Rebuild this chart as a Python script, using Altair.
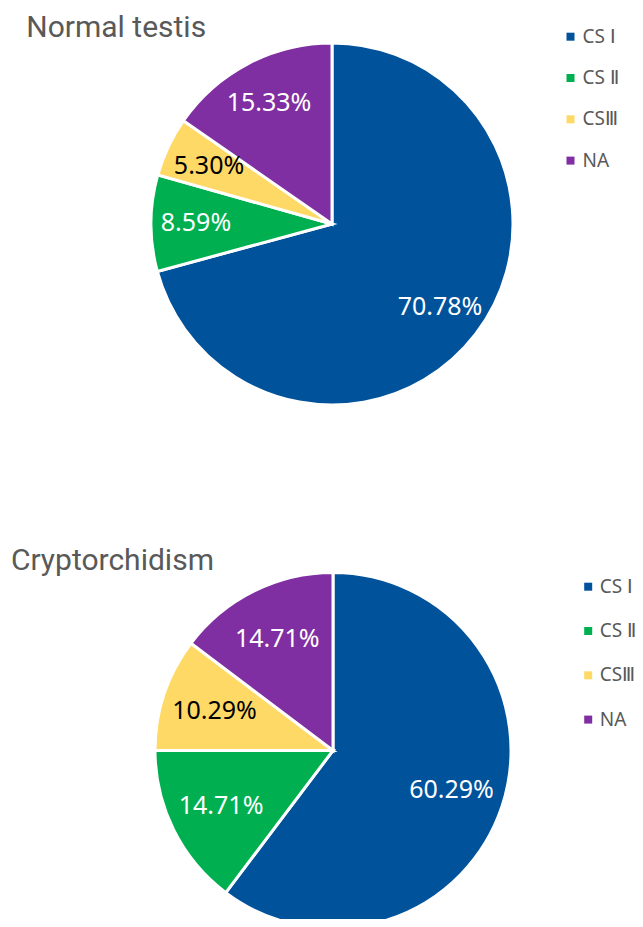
import altair as alt
import pandas as pd

categories = ["CS Ⅰ", "CS Ⅱ", "CSⅢ", "NA"]
normal_values = [70.78, 8.59, 5.30, 15.33]
crypto_values = [60.29, 14.71, 10.29, 14.71]
colors = ["#00529B", "#00B050", "#FFD966", "#7F2FA1"]
titles = ["Normal testis", "Cryptorchidism"]

FONT = "Noto Sans"
TITLE_FONT = "Roboto"
GREY = "#595959"
W, H = 627, 911


def make_df(values):
    return pd.DataFrame({
        "category": categories,
        "value": values,
        "idx": list(range(len(categories))),
        "label": [f"{v:.2f}%" for v in values],
    })


def legend(lx, ly, row_pad, label_off):
    return alt.Legend(
        orient="none",
        legendX=lx,
        legendY=ly,
        title=None,
        padding=0,
        symbolType="square",
        symbolSize=64,
        symbolStrokeWidth=0,
        labelFontSize=19,
        labelFont=FONT,
        labelColor=GREY,
        rowPadding=row_pad,
        labelOffset=label_off,
    )


def pie_layers(values, cx, cy, r, label_r, channel, leg):
    df = make_df(values)
    base = alt.Chart(df).encode(
        theta=alt.Theta("value:Q", stack=True),
        order=alt.Order("idx:Q"),
        x=alt.value(cx),
        y=alt.value(cy),
    )
    if channel == "color":
        enc = {"color": alt.Color("category:N",
                                  scale=alt.Scale(domain=categories, range=colors),
                                  legend=leg)}
    else:
        # data-driven domain (same alphabetical order) so the second legend stays separate
        enc = {"fill": alt.Fill("category:N", scale=alt.Scale(range=colors), legend=leg)}
    arc = base.mark_arc(outerRadius=r, stroke="white", strokeWidth=3, clip=True).encode(**enc)
    text = base.mark_text(radius=label_r, fontSize=25, font=FONT).encode(
        text="label:N",
        color=alt.condition(alt.datum.category == "CSⅢ", alt.value("black"), alt.value("white")),
    )
    return [arc, text]


def title_layer(text, tx, ty):
    return alt.Chart(pd.DataFrame({"title": [text]})).mark_text(
        align="left", baseline="alphabetic", fontSize=30, font=TITLE_FONT, color=GREY
    ).encode(text="title:N", x=alt.value(tx), y=alt.value(ty))


layers = (
    pie_layers(normal_values, 324, 216, 181, 136, "color", legend(553, 19.2, 21.3, 2.5))
    + pie_layers(crypto_values, 325, 742.5, 178, 125, "fill", legend(570.7, 569.2, 24.3, 2))
    + [title_layer(titles[0], 18.3, 29.3), title_layer(titles[1], 2.9, 562.3)]
)

chart = (
    alt.layer(*layers)
    .resolve_scale(theta="independent")
    .properties(width=W, height=H, autosize=alt.AutoSizeParams(type="none"), padding=0)
    .configure_view(stroke=None)
)

chart.save("out.html", embed_options={"renderer": "svg", "actions": False})
